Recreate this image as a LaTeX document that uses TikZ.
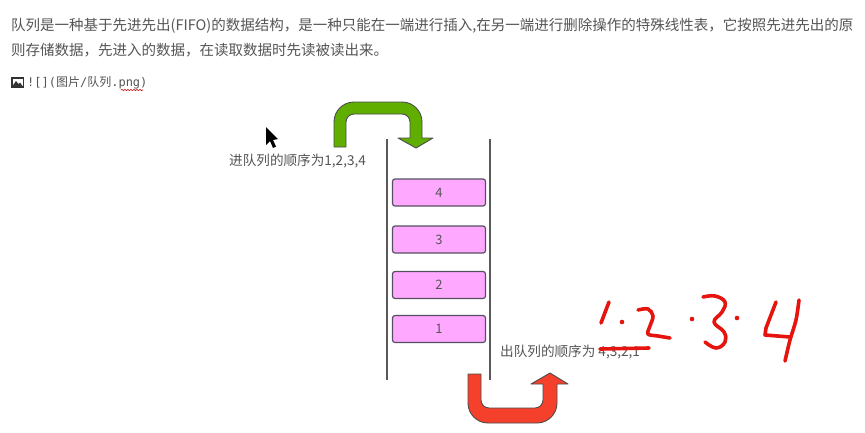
\documentclass[tikz,border=0pt]{standalone}
\usepackage{fontspec}
\setmainfont{Noto Sans CJK SC}
\newfontfamily\monof{DejaVu Sans Mono}
\usetikzlibrary{decorations.pathmorphing}
\definecolor{txt}{HTML}{555555}
\definecolor{boxfill}{HTML}{FFA8FF}
\definecolor{boxline}{HTML}{555060}
\definecolor{grn}{HTML}{5FAE00}
\definecolor{redarrow}{HTML}{F5402C}
\definecolor{ink}{HTML}{E5140F}
\tikzset{
  para/.style={anchor=west,inner sep=0pt,text=txt,font=\fontsize{14.5pt}{16pt}\selectfont},
  small/.style={anchor=west,inner sep=0pt,text=txt,font=\fontsize{13.6pt}{15pt}\selectfont},
  cell/.style={draw=boxline,line width=1.2pt,fill=boxfill,rounded corners=2.5pt,minimum width=93pt,minimum height=27pt,inner sep=0pt,text=txt,font=\fontsize{13pt}{15pt}\selectfont},
  wall/.style={draw=black!65,line width=1.2pt},
  bigarrow/.style={draw=black!70,line width=.9pt,line join=round},
  hand/.style={draw=ink,line width=3.6pt,line cap=round,line join=round},
  handdot/.style={fill=ink,draw=none}
}
\begin{document}
\begin{tikzpicture}[x=1pt,y=-1pt]
\useasboundingbox (0,0) rectangle (865,432);
\fill[white] (0,0) rectangle (865,432);
\node[para] (l1) at (11,26) {队列是一种基于先进先出(FIFO)的数据结构，是一种只能在一端进行插入,在另一端进行删除操作的特殊线性表，它按照先进先出的原};
\node[para] (l2) at (11,50) {则存储数据，先进入的数据，在读取数据时先读被读出来。};
% image icon
\fill[black!80] (11,77) rectangle (24,88);
\fill[white] (12.5,78.5) rectangle (22.5,86);
\fill[black!80] (12.5,86) -- (16,81) -- (18.5,84) -- (20,82.5) -- (22.5,86) -- cycle;
\node[para,font=\monof\fontsize{12pt}{15pt}\selectfont] (l3) at (27,83) {![](\fontspec{Noto Sans CJK SC}图片\monof/\fontspec{Noto Sans CJK SC}队列\monof.png)};
\draw[red!80!black,line width=.6pt,decorate,decoration={snake,amplitude=.6pt,segment length=3pt}] (121,90) -- (143,90);
% cursor
\fill[black] (266,127) -- (266,145) -- (270,141) -- (273,148) -- (276,146.5) -- (273,140) -- (278,139) -- cycle;
% walls
\coordinate (wl1) at (387,139); \coordinate (wl2) at (387,380);
\coordinate (wr1) at (490,139); \coordinate (wr2) at (490,380);
\draw[wall] (wl1) -- (wl2);
\draw[wall] (wr1) -- (wr2);
% cells
\node[cell] (c4) at (439,192.5) {4};
\node[cell] (c3) at (439,239.5) {3};
\node[cell] (c2) at (439,285) {2};
\node[cell] (c1) at (439,329) {1};
% green arrow
\draw[bigarrow,fill=grn] (334,147) -- (334,122) arc[start angle=180,end angle=270,radius=20] -- (402,102) arc[start angle=270,end angle=360,radius=20] -- (422,138) -- (433,138) -- (416,148) -- (398,138) -- (410,138) -- (410,122) arc[start angle=0,end angle=-90,radius=8] -- (354,114) arc[start angle=270,end angle=180,radius=8] -- (346,147) -- cycle;
% red arrow
\draw[bigarrow,fill=redarrow] (468,374) -- (468,403) arc[start angle=180,end angle=90,radius=20] -- (537,423) arc[start angle=90,end angle=0,radius=20] -- (557,384) -- (568,384) -- (550,373) -- (531,384) -- (543,384) -- (543,400) arc[start angle=0,end angle=90,radius=8] -- (489,408) arc[start angle=90,end angle=180,radius=8] -- (481,374) -- cycle;
% labels
\node[small] (in) at (229,161) {进队列的顺序为1,2,3,4};
\node[small] (out) at (500,352) {出队列的顺序为 4,3,2,1};
% handwriting
\draw[hand] (609,302) -- (601,323);
\fill[handdot] (622,322) circle (2.3);
\draw[hand] plot[smooth,tension=.6] coordinates {(638,310) (648,309) (653,316) (650,326) (648,334) (658,336) (670,338)};
\draw[hand] (600,349) -- (649,348);
\fill[handdot] (692,319) circle (2.3);
\draw[hand] plot[smooth,tension=.7] coordinates {(703,297) (715,296) (725,302) (722,312) (714,322) (724,332) (725,342) (716,348) (705,342)};
\fill[handdot] (737,318) circle (2.3);
\draw[hand] (776,302) -- (766,328) -- (765,335) -- (790,337);
\draw[hand] plot[smooth,tension=.5] coordinates {(799,300) (796,320) (790,340) (785,361)};
\end{tikzpicture}
\end{document}
